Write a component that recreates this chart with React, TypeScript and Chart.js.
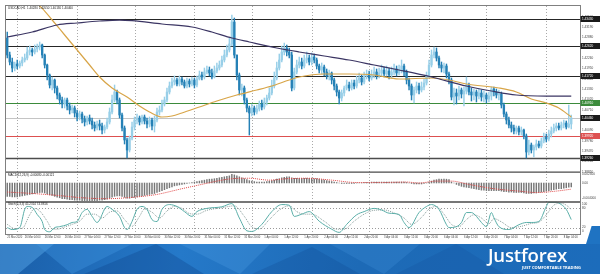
import React, { useEffect, useRef } from 'react';
import { Chart, registerables } from 'chart.js';

Chart.register(...registerables);

// ---------------- data ----------------
const chartTitle = 'USDCAD,H1  1.40280 1.40550 1.40130 1.40460';
const macdTitle = 'MACD(12,26,9) -0.00080 -0.00121';
const stochTitle = 'Stoch(5,3,3) 45.2314 74.8816';

const firstOpen = 1.4286;
const closes = [
  1.4235,1.4214,1.4196,1.4208,1.4202,1.4211,1.4220,1.4226,1.4244,1.4250,
  1.4244,1.4253,1.4259,1.4265,1.4235,1.4205,1.4175,1.4145,1.4160,1.4136,
  1.4115,1.4100,1.4088,1.4100,1.4082,1.4070,1.4076,1.4061,1.4049,1.4058,
  1.4043,1.4034,1.4046,1.4037,1.4025,1.4016,1.4028,1.4022,1.4010,1.4019,
  1.4034,1.4064,1.4100,1.4124,1.4100,1.4055,1.4016,1.3980,1.3950,1.3986,
  1.4019,1.4040,1.4046,1.4034,1.4049,1.4037,1.4028,1.4040,1.4022,1.4040,
  1.4064,1.4070,1.4088,1.4100,1.4124,1.4142,1.4154,1.4160,1.4148,1.4163,
  1.4154,1.4142,1.4157,1.4148,1.4160,1.4145,1.4163,1.4175,1.4169,1.4184,
  1.4190,1.4181,1.4169,1.4187,1.4196,1.4205,1.4220,1.4235,1.4250,1.4268,
  1.4334,1.4235,1.4175,1.4130,1.4136,1.4100,1.4076,1.4061,1.4076,1.4064,
  1.4073,1.4088,1.4079,1.4094,1.4106,1.4121,1.4142,1.4166,1.4196,1.4220,
  1.4244,1.4256,1.4244,1.4235,1.4136,1.4184,1.4205,1.4214,1.4202,1.4220,
  1.4226,1.4214,1.4229,1.4220,1.4202,1.4190,1.4199,1.4184,1.4172,1.4181,
  1.4160,1.4142,1.4124,1.4106,1.4121,1.4136,1.4145,1.4136,1.4151,1.4142,
  1.4160,1.4166,1.4154,1.4172,1.4178,1.4166,1.4175,1.4184,1.4172,1.4181,
  1.4190,1.4178,1.4187,1.4175,1.4184,1.4193,1.4181,1.4190,1.4202,1.4184,
  1.4160,1.4142,1.4115,1.4130,1.4142,1.4130,1.4139,1.4151,1.4172,1.4205,
  1.4235,1.4244,1.4226,1.4205,1.4196,1.4202,1.4178,1.4160,1.4109,1.4121,
  1.4112,1.4130,1.4118,1.4127,1.4145,1.4124,1.4115,1.4124,1.4112,1.4121,
  1.4109,1.4115,1.4103,1.4112,1.4133,1.4124,1.4115,1.4118,1.4085,1.4058,
  1.4040,1.4025,1.4016,1.4007,1.4016,1.4004,1.4010,1.3992,1.3944,1.3965,
  1.3950,1.3959,1.3968,1.3962,1.3977,1.3989,1.3983,1.3998,1.4007,1.4016,
  1.4022,1.4016,1.4025,1.4031,1.4019,1.4028,1.4046,
];
const highs = [
  1.4304,1.4244,1.4226,1.4214,1.4220,1.4217,1.4229,1.4238,1.4259,1.4262,
  1.4256,1.4265,1.4268,1.4274,1.4268,1.4238,1.4208,1.4178,1.4169,1.4163,
  1.4142,1.4121,1.4109,1.4106,1.4106,1.4091,1.4085,1.4082,1.4070,1.4067,
  1.4064,1.4052,1.4052,1.4055,1.4046,1.4034,1.4037,1.4040,1.4031,1.4025,
  1.4046,1.4076,1.4115,1.4145,1.4130,1.4106,1.4061,1.4022,1.3986,1.3992,
  1.4034,1.4049,1.4058,1.4052,1.4055,1.4055,1.4046,1.4049,1.4046,1.4052,
  1.4076,1.4082,1.4100,1.4109,1.4136,1.4154,1.4166,1.4172,1.4166,1.4172,
  1.4169,1.4160,1.4166,1.4163,1.4169,1.4166,1.4172,1.4187,1.4184,1.4196,
  1.4202,1.4199,1.4193,1.4202,1.4211,1.4217,1.4232,1.4250,1.4265,1.4286,
  1.4355,1.4346,1.4235,1.4181,1.4148,1.4142,1.4106,1.4082,1.4088,1.4082,
  1.4085,1.4097,1.4100,1.4106,1.4115,1.4136,1.4160,1.4184,1.4214,1.4238,
  1.4262,1.4271,1.4265,1.4256,1.4244,1.4196,1.4220,1.4229,1.4226,1.4235,
  1.4244,1.4235,1.4241,1.4238,1.4226,1.4208,1.4211,1.4205,1.4193,1.4190,
  1.4184,1.4166,1.4148,1.4130,1.4130,1.4142,1.4160,1.4154,1.4160,1.4160,
  1.4172,1.4181,1.4175,1.4184,1.4190,1.4187,1.4190,1.4199,1.4193,1.4196,
  1.4205,1.4199,1.4202,1.4196,1.4199,1.4208,1.4202,1.4205,1.4220,1.4208,
  1.4190,1.4166,1.4148,1.4139,1.4154,1.4151,1.4154,1.4163,1.4184,1.4220,
  1.4250,1.4259,1.4256,1.4232,1.4214,1.4211,1.4208,1.4184,1.4166,1.4136,
  1.4133,1.4142,1.4136,1.4139,1.4169,1.4151,1.4136,1.4133,1.4130,1.4133,
  1.4130,1.4127,1.4121,1.4124,1.4139,1.4139,1.4133,1.4130,1.4124,1.4091,
  1.4064,1.4049,1.4034,1.4025,1.4022,1.4022,1.4019,1.4013,1.3998,1.3980,
  1.3971,1.3965,1.3980,1.3977,1.3986,1.4001,1.3998,1.4010,1.4019,1.4028,
  1.4031,1.4031,1.4034,1.4040,1.4037,1.4085,1.4055,
];
const lows = [
  1.4226,1.4205,1.4184,1.4187,1.4193,1.4196,1.4202,1.4214,1.4220,1.4235,
  1.4232,1.4238,1.4244,1.4250,1.4226,1.4196,1.4160,1.4136,1.4130,1.4121,
  1.4103,1.4088,1.4076,1.4076,1.4070,1.4058,1.4061,1.4049,1.4037,1.4040,
  1.4031,1.4022,1.4025,1.4028,1.4013,1.4007,1.4010,1.4010,1.3998,1.4001,
  1.4013,1.4028,1.4058,1.4094,1.4088,1.4046,1.4007,1.3968,1.3926,1.3944,
  1.3980,1.4010,1.4028,1.4025,1.4028,1.4028,1.4016,1.4019,1.4010,1.4004,
  1.4034,1.4055,1.4064,1.4082,1.4094,1.4118,1.4136,1.4145,1.4142,1.4142,
  1.4145,1.4136,1.4136,1.4139,1.4142,1.4136,1.4139,1.4160,1.4160,1.4163,
  1.4178,1.4172,1.4163,1.4166,1.4181,1.4190,1.4199,1.4214,1.4229,1.4244,
  1.4262,1.4226,1.4160,1.4115,1.4112,1.4088,1.4064,1.3995,1.4052,1.4055,
  1.4058,1.4067,1.4070,1.4073,1.4085,1.4100,1.4115,1.4136,1.4160,1.4190,
  1.4214,1.4235,1.4232,1.4226,1.4127,1.4130,1.4178,1.4196,1.4193,1.4196,
  1.4211,1.4205,1.4205,1.4211,1.4193,1.4181,1.4178,1.4172,1.4163,1.4160,
  1.4148,1.4130,1.4112,1.4088,1.4097,1.4112,1.4130,1.4127,1.4130,1.4133,
  1.4136,1.4151,1.4145,1.4148,1.4163,1.4157,1.4160,1.4166,1.4163,1.4166,
  1.4172,1.4169,1.4172,1.4163,1.4166,1.4175,1.4172,1.4175,1.4181,1.4172,
  1.4148,1.4130,1.4100,1.4091,1.4121,1.4118,1.4124,1.4130,1.4145,1.4166,
  1.4199,1.4226,1.4217,1.4196,1.4184,1.4181,1.4166,1.4148,1.4100,1.4085,
  1.4088,1.4100,1.4106,1.4082,1.4118,1.4115,1.4097,1.4100,1.4094,1.4103,
  1.4097,1.4094,1.4091,1.4094,1.4100,1.4112,1.4106,1.4100,1.4076,1.4049,
  1.4028,1.4016,1.4004,1.3998,1.3998,1.3995,1.3995,1.3983,1.3926,1.3935,
  1.3941,1.3929,1.3950,1.3956,1.3956,1.3971,1.3974,1.3977,1.3989,1.4001,
  1.4007,1.4010,1.4010,1.4016,1.4013,1.4016,1.4013,
];

// moving averages: [bar index, price]
const maFastPoints: [number, number][] = [
  [10,1.4400],[14,1.4375],[18,1.4340],[23,1.4295],[28,1.4250],[33,1.4205],[37,1.4169],
  [42,1.4136],[48,1.4109],[53,1.4082],[57,1.4064],[62,1.4049],[66,1.4052],[70,1.4061],
  [77,1.4079],[84,1.4097],[92,1.4115],[100,1.4130],[106,1.4142],[113,1.4160],[117,1.4169],
  [127,1.4178],[137,1.4178],[147,1.4175],[157,1.4163],[170,1.4166],[177,1.4160],[184,1.4148],
  [197,1.4136],[204,1.4124],[210,1.4103],[216,1.4091],[221,1.4076],[226,1.4049],
];
const maSlowPoints: [number, number][] = [
  [0,1.4289],[10,1.4304],[20,1.4325],[28,1.4331],[37,1.4337],[45,1.4340],[50,1.4338],
  [62,1.4328],[74,1.4319],[82,1.4304],[90,1.4286],[97,1.4274],[108,1.4256],[117,1.4244],
  [127,1.4232],[137,1.4220],[147,1.4205],[157,1.4190],[170,1.4169],[184,1.4142],[194,1.4127],
  [204,1.4115],[216,1.4112],[226,1.4112],
];

const macdValues = [
  -0.0028,-0.0028,-0.0029,-0.0029,-0.0029,-0.0028,-0.0027,-0.0026,-0.0025,-0.0024,
  -0.0023,-0.0022,-0.0021,-0.0020,-0.0020,-0.0021,-0.0023,-0.0025,-0.0026,-0.0028,
  -0.0030,-0.0031,-0.0033,-0.0033,-0.0034,-0.0035,-0.0035,-0.0036,-0.0036,-0.0036,
  -0.0037,-0.0037,-0.0037,-0.0037,-0.0037,-0.0037,-0.0037,-0.0036,-0.0036,-0.0035,
  -0.0034,-0.0032,-0.0030,-0.0028,-0.0027,-0.0027,-0.0028,-0.0030,-0.0032,-0.0032,
  -0.0031,-0.0030,-0.0029,-0.0028,-0.0027,-0.0026,-0.0025,-0.0024,-0.0023,-0.0022,
  -0.0020,-0.0018,-0.0016,-0.0014,-0.0012,-0.0010,-0.0008,-0.0006,-0.0005,-0.0004,
  -0.0003,-0.0002,-0.0001,0.0000,0.0001,0.0002,0.0003,0.0004,0.0005,0.0006,
  0.0007,0.0008,0.0008,0.0009,0.0010,0.0011,0.0012,0.0013,0.0014,0.0015,
  0.0018,0.0017,0.0015,0.0013,0.0011,0.0009,0.0007,0.0005,0.0004,0.0003,
  0.0002,0.0002,0.0002,0.0002,0.0003,0.0004,0.0005,0.0006,0.0008,0.0009,
  0.0011,0.0012,0.0013,0.0013,0.0011,0.0010,0.0010,0.0010,0.0010,0.0010,
  0.0010,0.0010,0.0010,0.0009,0.0009,0.0008,0.0007,0.0006,0.0005,0.0004,
  0.0003,0.0002,0.0001,0.0000,-0.0001,-0.0001,-0.0001,-0.0001,-0.0001,-0.0001,
  0.0000,0.0000,0.0000,0.0001,0.0001,0.0001,0.0002,0.0002,0.0002,0.0002,
  0.0002,0.0002,0.0002,0.0002,0.0002,0.0002,0.0002,0.0002,0.0002,0.0002,
  0.0001,0.0000,-0.0001,-0.0002,-0.0002,-0.0002,-0.0002,-0.0001,0.0000,0.0002,
  0.0004,0.0006,0.0007,0.0008,0.0008,0.0008,0.0008,0.0007,0.0002,0.0000,
  -0.0003,-0.0005,-0.0007,-0.0008,-0.0009,-0.0010,-0.0011,-0.0012,-0.0013,-0.0014,
  -0.0015,-0.0015,-0.0016,-0.0016,-0.0016,-0.0016,-0.0016,-0.0016,-0.0017,-0.0018,
  -0.0018,-0.0019,-0.0019,-0.0020,-0.0020,-0.0020,-0.0020,-0.0021,-0.0022,-0.0022,
  -0.0022,-0.0021,-0.0021,-0.0020,-0.0019,-0.0018,-0.0017,-0.0016,-0.0015,-0.0014,
  -0.0013,-0.0012,-0.0012,-0.0011,-0.0010,-0.0009,-0.0008,
];
const macdSignalPoints: [number, number][] = [
  [0,-0.0019],[10,-0.0022],[20,-0.0026],[30,-0.0031],[40,-0.0033],[48,-0.0031],[56,-0.0027],
  [60,-0.0024],[70,-0.0012],[77,-0.0004],[85,0.0005],[90,0.0009],[97,0.0010],[105,0.0006],
  [112,0.0009],[120,0.0010],[130,0.0006],[140,0.0001],[150,0.0001],[160,0.0002],[165,0.0000],
  [172,0.0004],[178,0.0004],[185,-0.0003],[195,-0.0012],[205,-0.0017],[212,-0.0020],
  [220,-0.0017],[226,-0.0013],
];

const stochMainPoints: [number, number][] = [
  [0,20],[2,14],[5,20],[7,77],[8,86],[10,83],[12,61],[14,39],[15,14],[17,7],[19,20],[21,23],
  [24,29],[26,36],[28,39],[30,67],[32,77],[34,55],[36,36],[40,86],[42,77],[45,55],[47,20],
  [48,14],[50,39],[52,77],[54,86],[56,77],[58,45],[60,39],[62,77],[65,92],[68,86],[71,70],
  [74,55],[76,70],[80,80],[86,85],[90,95],[93,50],[96,10],[98,8],[102,30],[106,70],[110,92],
  [113,90],[115,55],[118,62],[121,70],[125,40],[130,15],[133,5],[136,30],[140,60],[143,70],
  [147,80],[150,75],[153,65],[157,61],[159,36],[161,20],[165,67],[168,86],[170,92],[173,77],
  [176,29],[177,20],[180,23],[182,36],[184,67],[186,67],[188,55],[190,36],[192,23],[194,67],
  [195,51],[197,23],[201,14],[205,29],[208,36],[210,36],[213,39],[216,86],[217,99],[220,99],
  [222,92],[224,77],[226,45],
];
const stochSignalPoints: [number, number][] = [
  [0,30],[3,17],[6,18],[9,60],[11,80],[13,72],[16,40],[18,16],[20,15],[23,22],[26,30],[29,40],
  [32,62],[35,62],[38,50],[41,68],[44,72],[47,45],[50,24],[53,55],[55,78],[58,68],[61,50],
  [64,72],[67,86],[70,80],[73,64],[76,62],[80,74],[86,82],[91,88],[95,55],[98,22],[101,16],
  [105,45],[109,75],[113,88],[116,70],[119,62],[122,62],[127,40],[132,15],[135,15],[139,40],
  [143,62],[147,74],[151,75],[155,66],[159,50],[162,30],[166,52],[169,78],[172,86],[175,62],
  [178,30],[181,23],[184,45],[187,60],[190,50],[193,32],[195,48],[198,38],[202,20],[206,24],
  [210,33],[213,37],[216,60],[219,90],[222,96],[225,84],[226,75],
];

const timeLabelBars = [0,7,15,23,31,39,47,55,63,71,79,87,95,103,111,119,127,135,143,151,159,167,175,183,191,199,207,215,223];
const timeLabels = [
  '25 Mar 2020','26 Mar 04:00','26 Mar 12:00','26 Mar 20:00','27 Mar 04:00','27 Mar 12:00',
  '27 Mar 20:00','30 Mar 04:00','30 Mar 12:00','30 Mar 20:00','31 Mar 04:00','31 Mar 12:00',
  '31 Mar 20:00','1 Apr 04:00','1 Apr 12:00','1 Apr 20:00','2 Apr 04:00','2 Apr 12:00',
  '2 Apr 20:00','3 Apr 04:00','3 Apr 12:00','3 Apr 20:00','6 Apr 04:00','6 Apr 12:00',
  '6 Apr 20:00','7 Apr 04:00','7 Apr 12:00','7 Apr 20:00','8 Apr 04:00',
];
const gridBars = [4,28,51,75,98,122,145,169,192,216];
const priceTicks = [1.4350,1.4319,1.4288,1.4257,1.4226,1.4195,1.4164,1.4133,1.4102,1.4071,1.4040,1.4009,1.3978,1.3947,1.3916,1.3885];
const levelPrices = [1.4343,1.4262,1.4172,1.4091,1.3992,1.3926];
const macdScaleValues = [0.0023, 0, -0.0040];
const macdScaleLabels = ['0.002300', '0.00', '-0.004000'];
const stochLevels = [80, 20];
const stochScaleValues = [100, 80, 20, 0];

// ---------------- drawing ----------------
const SLOTS = 230;
const FONT = '"Liberation Sans", Arial, sans-serif';
const BULL = '#98cfe8';
const BEAR = '#2581b6';
const levelColors = ['#262626', '#262626', '#262626', '#3b8b3b', '#dd5050', '#4d4d4d'];
const levelWidths = [1, 1, 1, 1, 1, 1.6];
const levelBoxColors = ['#1a1a1a', '#1a1a1a', '#1a1a1a', '#3b8b3b', '#dd5050', '#1a1a1a'];

function toSlots(points: [number, number][]) {
  const arr: (number | null)[] = new Array(SLOTS).fill(null);
  points.forEach(([i, v]) => { arr[i] = v; });
  return arr;
}

const panePlugin = {
  id: 'mt4panes',
  beforeDatasetsDraw(chart: any) {
    const { ctx, chartArea: a, scales } = chart;
    const x = scales.x, y = scales.y, ys = scales.yStoch;
    ctx.save();
    ctx.lineWidth = 1;
    ctx.strokeStyle = '#a9a9a9';
    ctx.setLineDash([1, 2]);
    gridBars.forEach((b) => {
      const px = Math.round(x.getPixelForValue(b)) + 0.5;
      ctx.beginPath(); ctx.moveTo(px, a.top); ctx.lineTo(px, a.bottom); ctx.stroke();
    });
    ctx.strokeStyle = '#9a9a9a';
    stochLevels.forEach((lv) => {
      const py = Math.round(ys.getPixelForValue(lv)) + 0.5;
      ctx.beginPath(); ctx.moveTo(a.left, py); ctx.lineTo(a.right, py); ctx.stroke();
    });
    ctx.setLineDash([]);
    // bid line
    const bid = closes[closes.length - 1];
    const by = Math.round(y.getPixelForValue(bid)) + 0.5;
    ctx.strokeStyle = '#c4c4c4';
    ctx.beginPath(); ctx.moveTo(a.left, by); ctx.lineTo(a.right, by); ctx.stroke();
    levelPrices.forEach((p, i) => {
      const py = Math.round(y.getPixelForValue(p)) + 0.5;
      ctx.strokeStyle = levelColors[i];
      ctx.lineWidth = levelWidths[i];
      ctx.beginPath(); ctx.moveTo(a.left, py); ctx.lineTo(a.right, py); ctx.stroke();
    });
    ctx.restore();
  },
  afterDraw(chart: any) {
    const { ctx, chartArea: a, scales } = chart;
    const y = scales.y, ym = scales.yMacd, ys = scales.yStoch;
    ctx.save();
    const macdTop = ym.getPixelForValue(macdScaleValues[0]);
    const stochTop = ys.getPixelForValue(100);
    ctx.strokeStyle = '#4a4a4a';
    ctx.lineWidth = 1.3;
    [macdTop, stochTop].forEach((py) => {
      ctx.beginPath(); ctx.moveTo(a.left, py); ctx.lineTo(a.right, py); ctx.stroke();
    });
    ctx.strokeStyle = '#808080';
    ctx.lineWidth = 1;
    ctx.strokeRect(a.left - 0.5, a.top - 0.5, a.right - a.left + 1, a.bottom - a.top + 1);

    ctx.font = `3px ${FONT}`;
    ctx.textBaseline = 'middle';
    ctx.textAlign = 'left';
    ctx.fillStyle = '#222';
    ctx.fillText(chartTitle, a.left + 2, a.top + 2.6);
    ctx.fillText(macdTitle, a.left + 2, macdTop + 3);
    ctx.fillText(stochTitle, a.left + 2, stochTop + 2.6);

    ctx.fillStyle = '#444';
    ctx.font = `3.1px ${FONT}`;
    const macdOffsets = [2.3, 0, -3.8];
    macdScaleValues.forEach((v, i) => {
      ctx.fillText(macdScaleLabels[i], a.right + 2, ym.getPixelForValue(v) + macdOffsets[i]);
    });
    const stochOffsets = [2, 0, 0, -2.6];
    stochScaleValues.forEach((v, i) => {
      ctx.fillText(String(v), a.right + 2, ys.getPixelForValue(v) + stochOffsets[i]);
    });

    // boxed price labels
    const drawBox = (price: number, fill: string) => {
      const py = y.getPixelForValue(price);
      ctx.fillStyle = fill;
      ctx.fillRect(a.right + 0.5, py - 3, 19.5, 6);
      ctx.fillStyle = '#ffffff';
      ctx.fillText(price.toFixed(5), a.right + 2, py);
    };
    levelPrices.forEach((p, i) => drawBox(p, levelBoxColors[i]));
    drawBox(closes[closes.length - 1], '#1a1a1a');
    ctx.restore();
  },
};

export default function App() {
  const ref = useRef<HTMLCanvasElement | null>(null);

  useEffect(() => {
    if (!ref.current) return;
    const opens = closes.map((c, i) => (i === 0 ? firstOpen : closes[i - 1]));
    const bodies = closes.map((c, i) => [opens[i], c]);
    const wicks = closes.map((c, i) => [
      Math.min(lows[i], opens[i], c),
      Math.max(highs[i], opens[i], c),
    ]);
    const colors = closes.map((c, i) => (c >= opens[i] ? BULL : BEAR));
    const slotLabels = Array.from({ length: SLOTS }, (_, i) => String(i));
    const labelAt = new Map<number, string>();
    timeLabelBars.forEach((b, i) => labelAt.set(b, timeLabels[i]));

    const chart = new Chart(ref.current, {
      type: 'bar',
      data: {
        labels: slotLabels,
        datasets: [
          {
            type: 'line', data: toSlots(maSlowPoints), yAxisID: 'y', borderColor: '#3b3563',
            borderWidth: 1.25, pointRadius: 0, spanGaps: true, cubicInterpolationMode: 'monotone',
          } as any,
          {
            type: 'line', data: toSlots(maFastPoints), yAxisID: 'y', borderColor: '#d8a548',
            borderWidth: 1.2, pointRadius: 0, spanGaps: true, cubicInterpolationMode: 'monotone',
          } as any,
          {
            type: 'bar', data: bodies, yAxisID: 'y', backgroundColor: colors,
            barThickness: 1.7, grouped: false, minBarLength: 0.8,
          } as any,
          {
            type: 'bar', data: wicks, yAxisID: 'y', backgroundColor: colors,
            barThickness: 0.8, grouped: false,
          } as any,
          {
            type: 'line', data: toSlots(macdSignalPoints), yAxisID: 'yMacd', borderColor: '#e04848',
            borderWidth: 1, borderDash: [1, 1], pointRadius: 0, spanGaps: true, cubicInterpolationMode: 'monotone',
          } as any,
          {
            type: 'bar', data: macdValues, yAxisID: 'yMacd', backgroundColor: '#777777',
            barThickness: 0.8, grouped: false,
          } as any,
          {
            type: 'line', data: toSlots(stochMainPoints), yAxisID: 'yStoch', borderColor: '#5aaea8',
            borderWidth: 1, pointRadius: 0, spanGaps: true, cubicInterpolationMode: 'monotone',
          } as any,
          {
            type: 'line', data: toSlots(stochSignalPoints), yAxisID: 'yStoch', borderColor: '#8a9e9c',
            borderWidth: 1, borderDash: [1, 1], pointRadius: 0, spanGaps: true, cubicInterpolationMode: 'monotone',
          } as any,
        ],
      },
      options: {
        responsive: false,
        animation: false,
        events: [],
        layout: { padding: { left: 6, top: 6, right: 0, bottom: 0 } },
        plugins: { legend: { display: false }, tooltip: { enabled: false }, title: { display: false } },
        scales: {
          x: {
            type: 'category', offset: true,
            grid: { display: false, drawTicks: false }, border: { display: false },
            ticks: {
              autoSkip: false, maxRotation: 0, minRotation: 0, align: 'start', padding: 1.5,
              font: { size: 2.7, family: FONT }, color: '#444',
              callback: (_v: any, i: number) => labelAt.get(i) ?? '',
            },
            afterFit: (s: any) => { s.height = 10; },
          },
          y: {
            type: 'linear', position: 'right', min: 1.3698, max: 1.4382,
            grid: { display: false, drawTicks: false }, border: { display: false },
            afterBuildTicks: (s: any) => { s.ticks = priceTicks.map((v) => ({ value: v })); },
            ticks: {
              padding: 2, font: { size: 3.1, family: FONT }, color: '#444',
              callback: (v: any) => Number(v).toFixed(5),
            },
            afterFit: (s: any) => { s.width = 20; },
          },
          yMacd: { type: 'linear', display: false, min: -0.01071, max: 0.03717 },
          yStoch: { type: 'linear', display: false, min: 0, max: 712.5 },
        },
      } as any,
      plugins: [panePlugin],
    });
    return () => chart.destroy();
  }, []);

  const shapes: { pts: string; color: string }[] = [
    { pts: '0% 0%, 9% 0%, 3% 100%, 0% 100%', color: 'rgba(90,170,235,0.45)' },
    { pts: '6% 0%, 22% 0%, 12% 100%', color: 'rgba(70,155,230,0.35)' },
    { pts: '14% 100%, 26% 0%, 34% 100%', color: 'rgba(15,70,140,0.35)' },
    { pts: '30% 0%, 45% 0%, 40% 100%', color: 'rgba(80,160,230,0.3)' },
    { pts: '42% 100%, 52% 10%, 60% 100%', color: 'rgba(15,75,150,0.3)' },
    { pts: '55% 0%, 70% 0%, 64% 100%', color: 'rgba(70,150,225,0.25)' },
    { pts: '66% 100%, 76% 0%, 84% 100%', color: 'rgba(20,80,155,0.25)' },
  ];

  return (
    <div style={{ position: 'absolute', left: 0, top: 0, width: 600, height: 274, background: '#ffffff', overflow: 'hidden' }}>
      <canvas ref={ref} width={600} height={244} style={{ position: 'absolute', left: 0, top: 0, width: 600, height: 244 }} />
      <div style={{ position: 'absolute', left: 586, top: 226, width: 14, height: 18, background: '#1f73c2', clipPath: 'polygon(40% 0%, 100% 0%, 100% 100%, 0% 100%)' }} />
      <div style={{
        position: 'absolute', left: 0, top: 244, width: 600, height: 30, overflow: 'hidden',
        background: 'linear-gradient(100deg, #1a5ea8 0%, #2579c9 30%, #1d6ab6 60%, #1c6cbb 100%)',
      }}>
        {shapes.map((s, i) => (
          <div key={i} style={{ position: 'absolute', left: 0, top: 0, width: 600, height: 30, background: s.color, clipPath: `polygon(${s.pts})` }} />
        ))}
        <div style={{ position: 'absolute', left: 488, top: 0.5, font: '600 18.6px "Open Sans", sans-serif', lineHeight: '20px', color: '#ffffff', letterSpacing: '-0.2px', whiteSpace: 'nowrap' }}>Justforex</div>
        <div style={{ position: 'absolute', left: 522, top: 21, font: '700 8px "Open Sans", sans-serif', lineHeight: '8px', color: '#ffffff', whiteSpace: 'nowrap', transform: 'scale(0.5)', transformOrigin: '0 0' }}>JUST COMFORTABLE TRADING</div>
      </div>
    </div>
  );
}
